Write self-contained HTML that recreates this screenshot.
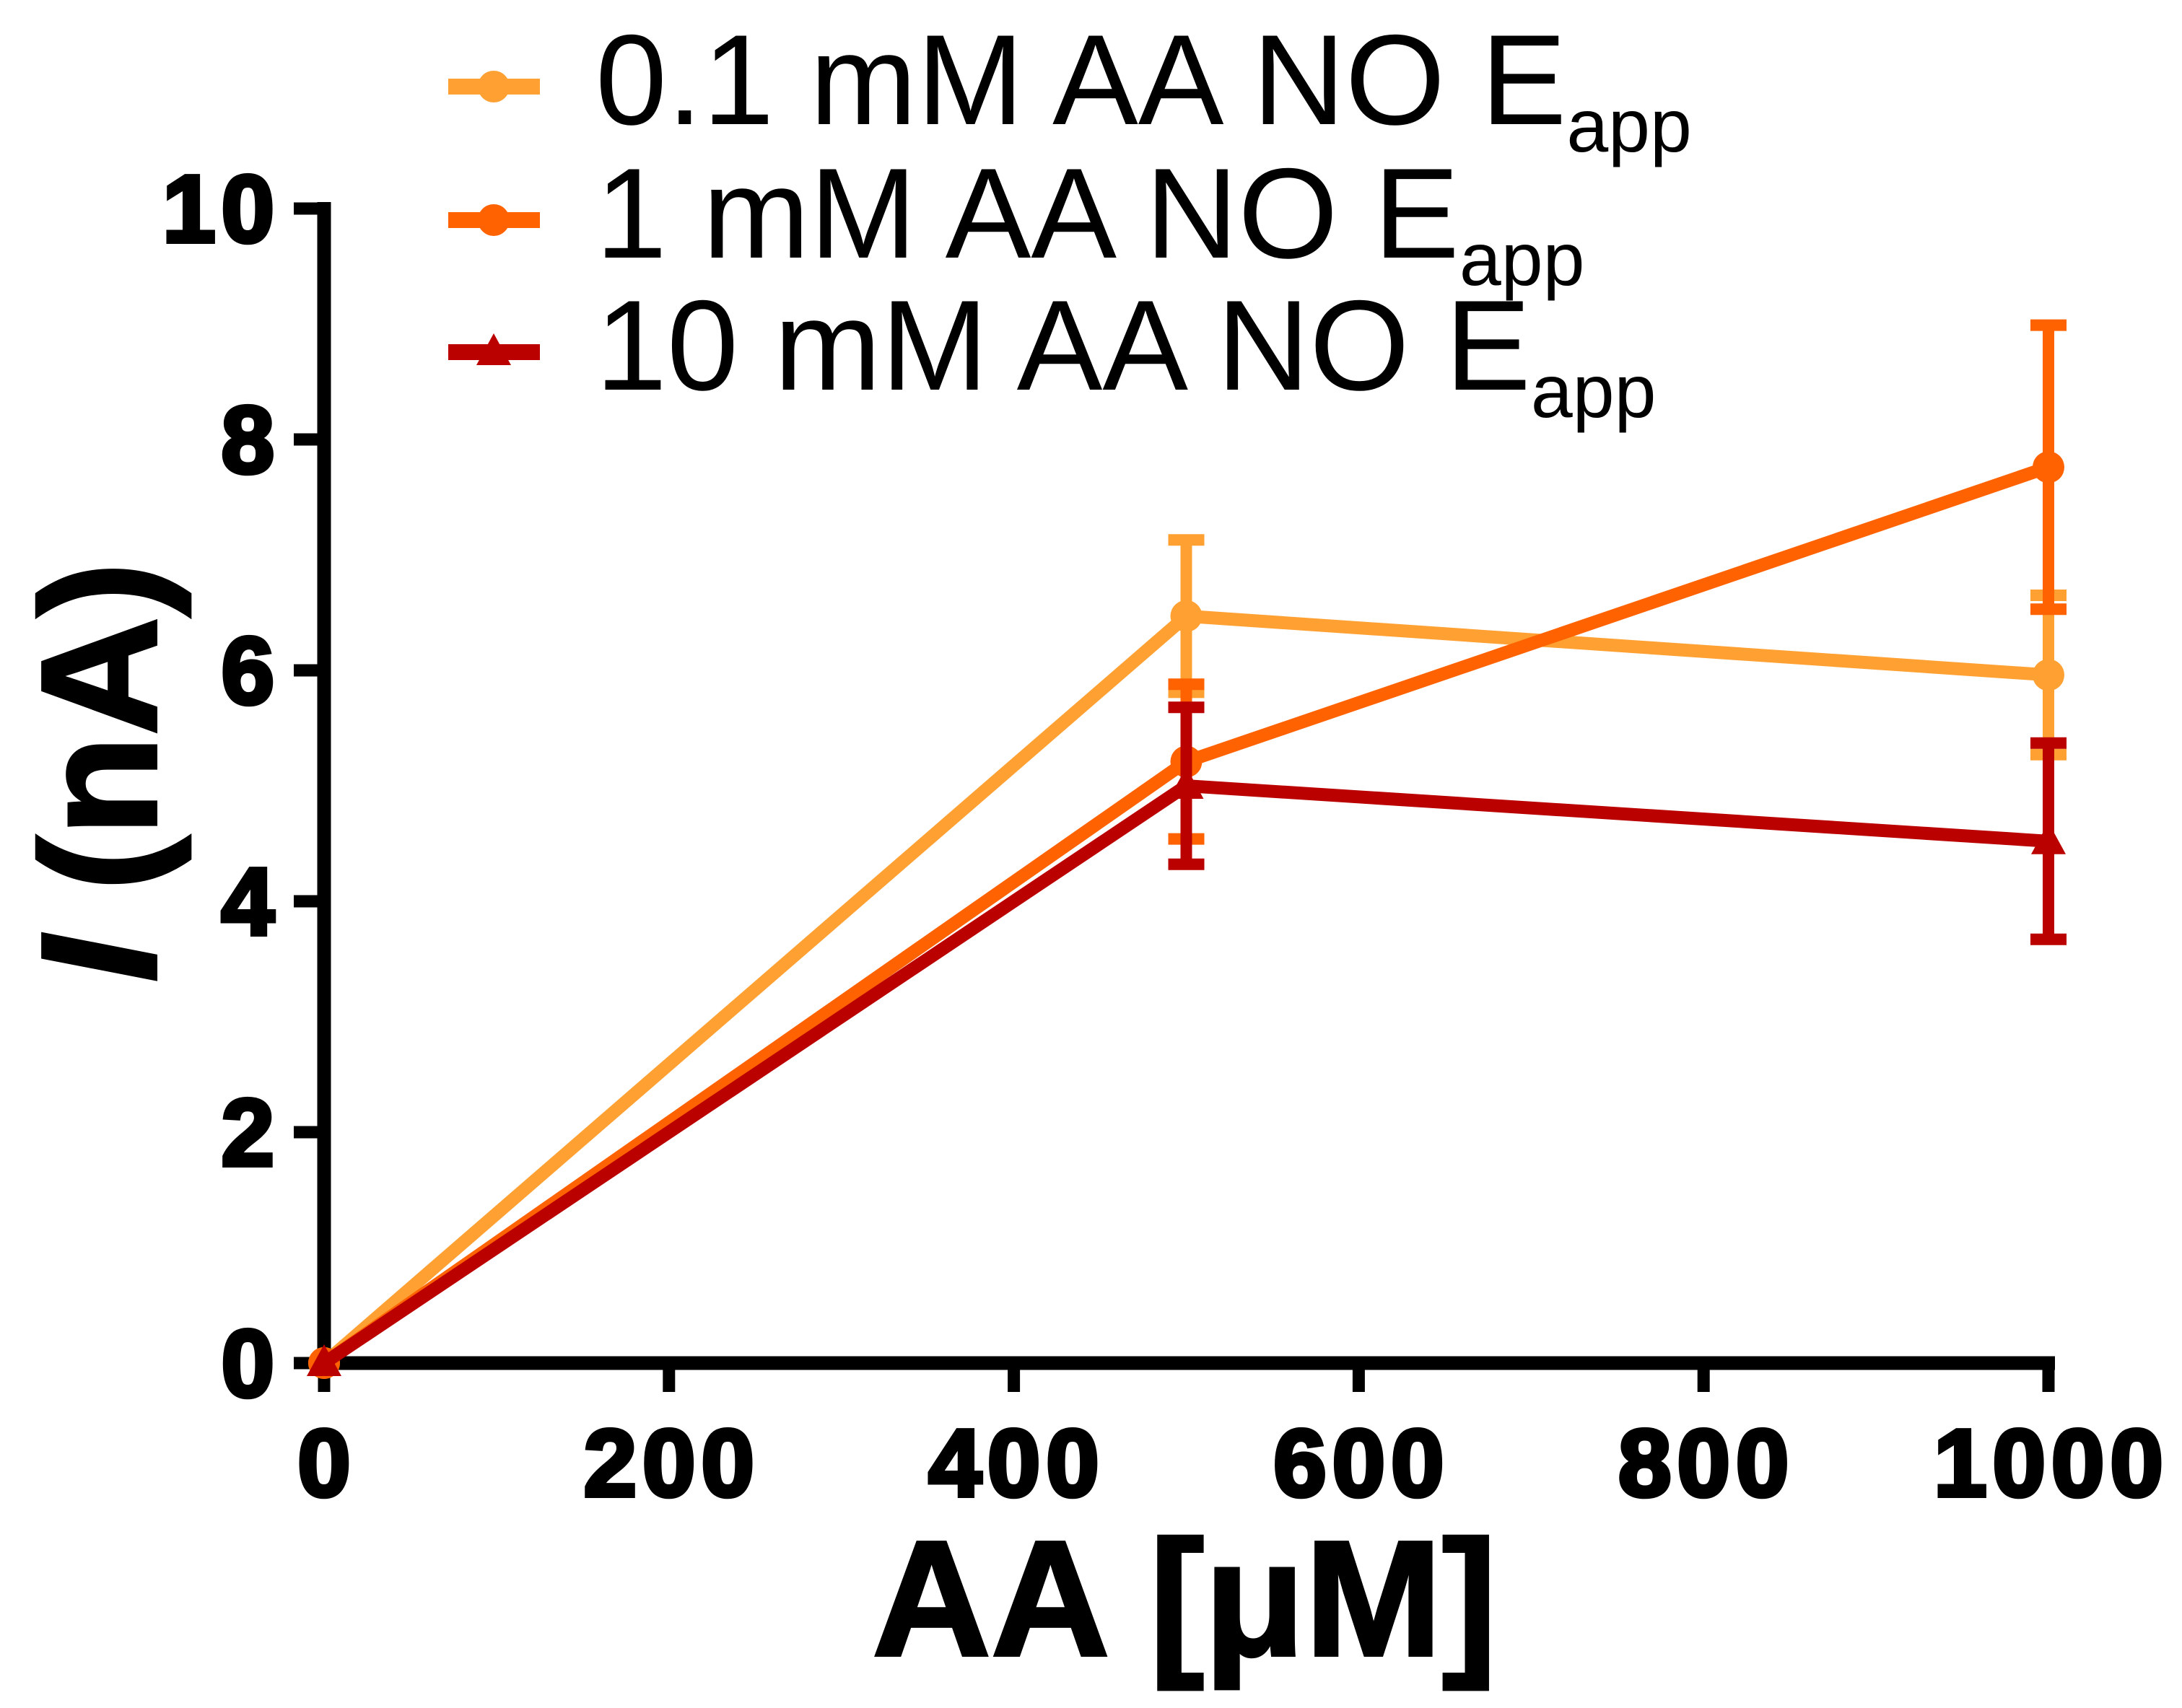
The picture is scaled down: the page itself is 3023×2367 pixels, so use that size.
<!DOCTYPE html>
<html><head><meta charset="utf-8"><style>
html,body{margin:0;padding:0;background:#fff;}
svg{display:block;}
text{font-family:"Liberation Sans",Arial,sans-serif;}
</style></head><body>
<svg id="chart" width="3023" height="2367" viewBox="0 0 3023 2367" xmlns="http://www.w3.org/2000/svg">
<g id="axes"></g>
<g id="series"></g>
<g id="legend"></g>
<text x="1641" y="2294" text-anchor="middle" font-size="228" font-weight="bold" stroke="#000" stroke-width="4">AA [μM]</text>
<text transform="translate(216,1070) rotate(-90)" text-anchor="middle" font-size="228" font-weight="bold" stroke="#000" stroke-width="4"><tspan font-style="italic">I</tspan> (nA)</text>
</svg>
<script>
const xValues = [0, 500, 1000];
const seriesNames = ["0.1 mM AA NO E", "1 mM AA NO E", "10 mM AA NO E"];
const s1Values = [0, 6.47, 5.96];
const s1Errors = [0, 0.66, 0.69];
const s2Values = [0, 5.21, 7.76];
const s2Errors = [0, 0.67, 1.23];
const s3Values = [0, 5.0, 4.52];
const s3Errors = [0, 0.68, 0.85];
const xTicks = [0, 200, 400, 600, 800, 1000];
const yTicks = [0, 2, 4, 6, 8, 10];

const NS = "http://www.w3.org/2000/svg";
const X0 = 449, X1 = 2838, Y0 = 1889, Y1 = 289;
function xs(v){ return X0 + (v/1000)*(X1-X0); }
function ys(v){ return Y0 - (v/10)*(Y0-Y1); }
function mk(tag, attrs, parent){
  const e = document.createElementNS(NS, tag);
  for (const k in attrs) e.setAttribute(k, attrs[k]);
  parent.appendChild(e);
  return e;
}
const axes = document.getElementById('axes');
let el = mk('line', {x1:X0, y1:Y1-9, x2:X0, y2:Y0+9, stroke:'#000', 'stroke-width':19}, axes);


el = mk('line', {x1:X0-9, y1:Y0, x2:X1+9, y2:Y0, stroke:'#000', 'stroke-width':19}, axes);


const tickStyle = {'font-size':132, 'font-weight':'bold', stroke:'#000', 'stroke-width':6, 'letter-spacing':8};
yTicks.forEach(t => {
  const tk = mk('line', {x1:X0-42, y1:ys(t), x2:X0, y2:ys(t), stroke:'#000', 'stroke-width':17}, axes);
  
  
  const lb = mk('text', Object.assign({x:388, y:ys(t)+46, 'text-anchor':'end'}, tickStyle), axes);
  lb.textContent = t;
  
  
});
xTicks.forEach(t => {
  const tk = mk('line', {x1:xs(t), y1:Y0, x2:xs(t), y2:Y0+40, stroke:'#000', 'stroke-width':17}, axes);
  
  
  const lb = mk('text', Object.assign({x:xs(t)+4, y:2073, 'text-anchor':'middle'}, tickStyle), axes);
  lb.textContent = t;
  
  
});

const seriesLayer = document.getElementById('series');
const defs = [
  {vals:s1Values, errs:s1Errors, color:'#FFA033', marker:'circle'},
  {vals:s2Values, errs:s2Errors, color:'#FF6200', marker:'circle'},
  {vals:s3Values, errs:s3Errors, color:'#BB0000', marker:'triangle'}
];
function marker(g, type, cx, cy, color){
  if (type === 'circle') return mk('circle', {cx:cx, cy:cy, r:22, fill:color}, g);
  return mk('polygon', {points:`${cx},${cy-26} ${cx-24},${cy+18} ${cx+24},${cy+18}`, fill:color}, g);
}
defs.forEach((d, i) => {
  const g = mk('g', {}, seriesLayer);
  
  
  const pts = xValues.map((x, j) => xs(x) + ',' + ys(d.vals[j])).join(' ');
  const pl = mk('polyline', {points:pts, fill:'none', stroke:d.color, 'stroke-width':18, 'stroke-linejoin':'round'}, g);
  
  
  xValues.forEach((x, j) => {
    const cx = xs(x);
    if (d.errs[j] > 0) {
      const top = ys(d.vals[j] + d.errs[j]), bot = ys(d.vals[j] - d.errs[j]);
      const eb = mk('g', {stroke:d.color, 'stroke-width':16}, g);
      
      
      mk('line', {x1:cx, y1:top, x2:cx, y2:bot}, eb);
      mk('line', {x1:cx-25, y1:top, x2:cx+25, y2:top}, eb);
      mk('line', {x1:cx-25, y1:bot, x2:cx+25, y2:bot}, eb);
    }
    const m = marker(g, d.marker, cx, ys(d.vals[j]), d.color);
    
    
  });
});

const legend = document.getElementById('legend');
const legY = [120, 305, 488];
defs.forEach((d, i) => {
  const g = mk('g', {}, legend);
  
  
  mk('line', {x1:621, y1:legY[i], x2:748, y2:legY[i], stroke:d.color, 'stroke-width':22}, g);
  marker(g, d.marker, 684, legY[i], d.color);
  const t = mk('text', {x:825, y:legY[i]+52, 'font-size':178}, g);
  t.textContent = seriesNames[i];
  const sub = mk('tspan', {'font-size':104, dy:38}, t);
  sub.textContent = 'app';
});
</script>
</body></html>
